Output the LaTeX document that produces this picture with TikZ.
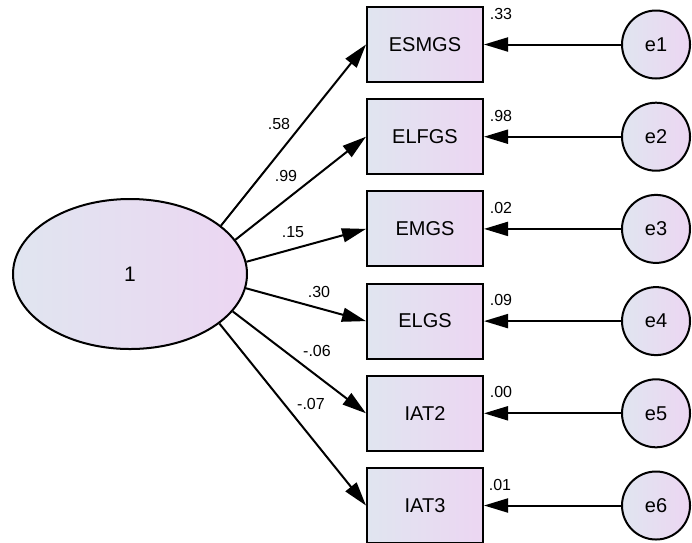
\documentclass[tikz,border=0pt]{standalone}
\usepackage{fontspec}
\setmainfont{Liberation Sans}
\usetikzlibrary{arrows.meta,shapes.geometric}
\definecolor{fillL}{RGB}{224,229,240}
\definecolor{fillR}{RGB}{236,214,242}
\begin{document}
\begin{tikzpicture}[x=1pt,y=-1pt,
 obs/.style={draw=black,line width=2pt,minimum width=116pt,minimum height=75pt,inner sep=0pt,left color=fillL,right color=fillR,font=\fontsize{20}{24}\selectfont},
 err/.style={circle,draw=black,line width=2pt,minimum size=68pt,inner sep=0pt,left color=fillL,right color=fillR,font=\fontsize{20}{24}\selectfont},
 lat/.style={ellipse,draw=black,line width=2pt,minimum width=234pt,minimum height=150pt,inner sep=0pt,left color=fillL,right color=fillR,font=\fontsize{21}{24}\selectfont},
 arr/.style={line width=2pt,-{Triangle[length=24pt,width=14pt]}},
 lab/.style={font=\fontsize{16}{18}\selectfont,inner sep=0pt}]
\useasboundingbox (0,0) rectangle (692,542);
\node[lat] (L) at (130,274) {1};
\node[obs] (b1) at (425,44.5) {ESMGS};
\node[obs] (b2) at (425,136.7) {ELFGS};
\node[obs] (b3) at (425,228.9) {EMGS};
\node[obs] (b4) at (425,321.1) {ELGS};
\node[obs] (b5) at (425,413.3) {IAT2};
\node[obs] (b6) at (425,505.5) {IAT3};
\node[err] (e1) at (656,44.5) {e1};
\node[err] (e2) at (656,136.7) {e2};
\node[err] (e3) at (656,228.9) {e3};
\node[err] (e4) at (656,321.1) {e4};
\node[err] (e5) at (656,413.3) {e5};
\node[err] (e6) at (656,505.5) {e6};
\draw[arr] (L.28) -- (b1.west);
\draw[arr] (L.18) -- (b2.west);
\draw[arr] (L.6) -- (b3.west);
\draw[arr] (L.-7) -- (b4.west);
\draw[arr] (L.-20) -- (b5.west);
\draw[arr] (L.-29) -- (b6.west);
\foreach \i in {1,...,6}{\draw[arr] (e\i) -- (b\i);}
\node[lab] (l1) at (279,124) {.58};
\node[lab] (l2) at (286,176) {.99};
\node[lab] (l3) at (293,232) {.15};
\node[lab] (l4) at (319,292) {.30};
\node[lab] (l5) at (317,351) {-.06};
\node[lab] (l6) at (311,404) {-.07};
\node[lab] (r1) at (501,14) {.33};
\node[lab] (r2) at (501,116) {.98};
\node[lab] (r3) at (501,208) {.02};
\node[lab] (r4) at (501,300) {.09};
\node[lab] (r5) at (501,392) {.00};
\node[lab] (r6) at (500,485) {.01};
\end{tikzpicture}
\end{document}
